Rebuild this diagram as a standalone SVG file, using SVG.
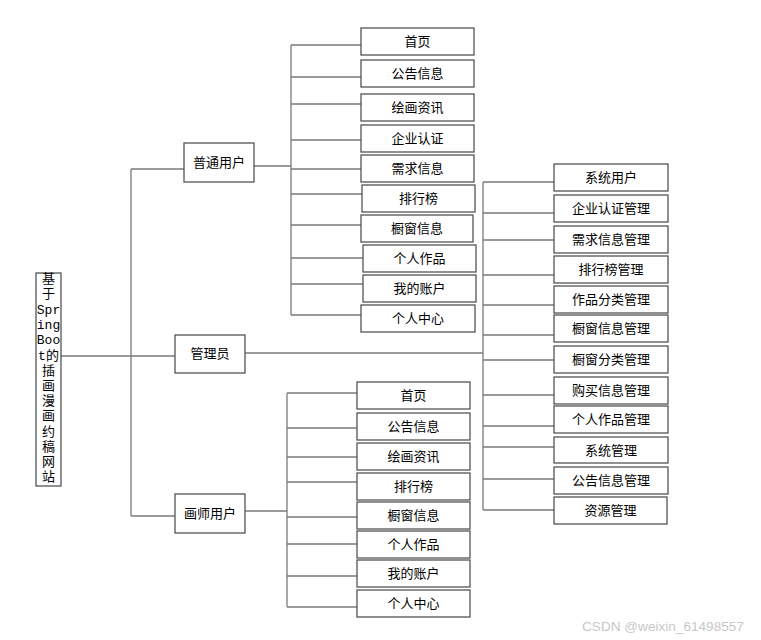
<svg xmlns="http://www.w3.org/2000/svg" width="761" height="640" viewBox="0 0 761 640">
<style>
.b{fill:#fff;stroke:#555;stroke-width:1.3}
.t{font-family:"Noto Sans CJK SC","Liberation Sans",sans-serif;font-size:13px;fill:#000;text-anchor:middle}
.r{font-family:"Liberation Mono","Noto Sans CJK SC",monospace;font-size:13px;fill:#000;text-anchor:middle}
.c{fill:none;stroke:#7a7a7a;stroke-width:1.3}
.w{font-family:"Liberation Sans","Noto Sans",sans-serif;font-size:13.6px;fill:#c8c8c8}
</style>
<rect width="761" height="640" fill="#fff"/>
<g id="connectors">
<path class="c" d="M61 356H175M131 169V516M131 169H184M131 516H175"/>
<path class="c" d="M254 166H291M291 45V315M291 45H361M291 77H361M291 104H361M291 140H361M291 169H361M291 194H362M291 225H361M291 258H363M291 284H363M291 315H361"/>
<path class="c" d="M245 353H483M483 182V510M483 182H554M483 213H554M483 240H554M483 275H554M483 305H554M483 335H554M483 360H554M483 395H554M483 426H554M483 447H554M483 479H554M483 510H554"/>
<path class="c" d="M245 511H287M287 393V607M287 393H357M287 428H357M287 457H357M287 482H357M287 517H357M287 544H357M287 576H357M287 607H357"/>
</g>
<g id="root">
<rect class="b" x="36" y="273" width="25" height="213"/>
<text class="r"><tspan x="48.5" y="283">基</tspan><tspan x="48.5" y="298">于</tspan><tspan x="48.5" y="314">Spr</tspan><tspan x="48.5" y="329">ing</tspan><tspan x="48.5" y="344">Boo</tspan><tspan x="48.5" y="360">t的</tspan><tspan x="48.5" y="375">插</tspan><tspan x="48.5" y="390">画</tspan><tspan x="48.5" y="405">漫</tspan><tspan x="48.5" y="420">画</tspan><tspan x="48.5" y="436">约</tspan><tspan x="48.5" y="451">稿</tspan><tspan x="48.5" y="466">网</tspan><tspan x="48.5" y="481">站</tspan></text>
</g>
<g id="user"><rect class="b" x="184" y="143" width="70" height="39"/><text class="t" x="219" y="167">普通用户</text></g>
<g id="admin"><rect class="b" x="175" y="335" width="70" height="38"/><text class="t" x="210" y="358">管理员</text></g>
<g id="artist"><rect class="b" x="175" y="494" width="70" height="39"/><text class="t" x="210" y="518">画师用户</text></g>

<g id="u1"><rect class="b" x="361" y="28" width="113" height="27"/><text class="t" x="417.5" y="46">首页</text></g>
<g id="u2"><rect class="b" x="361" y="60" width="113" height="27"/><text class="t" x="417.5" y="78">公告信息</text></g>
<g id="u3"><rect class="b" x="361" y="94" width="113" height="27"/><text class="t" x="417.5" y="112">绘画资讯</text></g>
<g id="u4"><rect class="b" x="361" y="125" width="113" height="27"/><text class="t" x="417.5" y="143">企业认证</text></g>
<g id="u5"><rect class="b" x="361" y="155" width="113" height="27"/><text class="t" x="417.5" y="173">需求信息</text></g>
<g id="u6"><rect class="b" x="362" y="185" width="113" height="27"/><text class="t" x="418.5" y="203">排行榜</text></g>
<g id="u7"><rect class="b" x="361" y="215" width="112" height="27"/><text class="t" x="417" y="233">橱窗信息</text></g>
<g id="u8"><rect class="b" x="363" y="245" width="113" height="27"/><text class="t" x="419.5" y="263">个人作品</text></g>
<g id="u9"><rect class="b" x="363" y="275" width="113" height="27"/><text class="t" x="419.5" y="293">我的账户</text></g>
<g id="u10"><rect class="b" x="361" y="305" width="114" height="27"/><text class="t" x="418" y="323">个人中心</text></g>

<g id="a1"><rect class="b" x="554" y="164" width="114" height="27"/><text class="t" x="611" y="182">系统用户</text></g>
<g id="a2"><rect class="b" x="554" y="195" width="114" height="27"/><text class="t" x="611" y="213">企业认证管理</text></g>
<g id="a3"><rect class="b" x="554" y="226" width="114" height="27"/><text class="t" x="611" y="244">需求信息管理</text></g>
<g id="a4"><rect class="b" x="554" y="256" width="114" height="27"/><text class="t" x="611" y="274">排行榜管理</text></g>
<g id="a5"><rect class="b" x="554" y="286" width="114" height="27"/><text class="t" x="611" y="304">作品分类管理</text></g>
<g id="a6"><rect class="b" x="554" y="315" width="114" height="27"/><text class="t" x="611" y="333">橱窗信息管理</text></g>
<g id="a7"><rect class="b" x="554" y="346" width="114" height="27"/><text class="t" x="611" y="364">橱窗分类管理</text></g>
<g id="a8"><rect class="b" x="554" y="377" width="114" height="27"/><text class="t" x="611" y="395">购买信息管理</text></g>
<g id="a9"><rect class="b" x="554" y="406" width="114" height="27"/><text class="t" x="611" y="424">个人作品管理</text></g>
<g id="a10"><rect class="b" x="554" y="437" width="114" height="26"/><text class="t" x="611" y="455">系统管理</text></g>
<g id="a11"><rect class="b" x="554" y="467" width="114" height="27"/><text class="t" x="611" y="485">公告信息管理</text></g>
<g id="a12"><rect class="b" x="554" y="497" width="113" height="27"/><text class="t" x="610.5" y="515">资源管理</text></g>

<g id="p1"><rect class="b" x="357" y="382" width="113" height="27"/><text class="t" x="413.5" y="400">首页</text></g>
<g id="p2"><rect class="b" x="357" y="413" width="113" height="27"/><text class="t" x="413.5" y="431">公告信息</text></g>
<g id="p3"><rect class="b" x="357" y="443" width="113" height="27"/><text class="t" x="413.5" y="461">绘画资讯</text></g>
<g id="p4"><rect class="b" x="357" y="473" width="113" height="27"/><text class="t" x="413.5" y="491">排行榜</text></g>
<g id="p5"><rect class="b" x="357" y="502" width="113" height="27"/><text class="t" x="413.5" y="520">橱窗信息</text></g>
<g id="p6"><rect class="b" x="357" y="531" width="113" height="27"/><text class="t" x="413.5" y="549">个人作品</text></g>
<g id="p7"><rect class="b" x="357" y="560" width="113" height="27"/><text class="t" x="413.5" y="578">我的账户</text></g>
<g id="p8"><rect class="b" x="357" y="590" width="113" height="27"/><text class="t" x="413.5" y="608">个人中心</text></g>

<text class="w" x="582" y="631">CSDN @weixin_61498557</text>
</svg>
